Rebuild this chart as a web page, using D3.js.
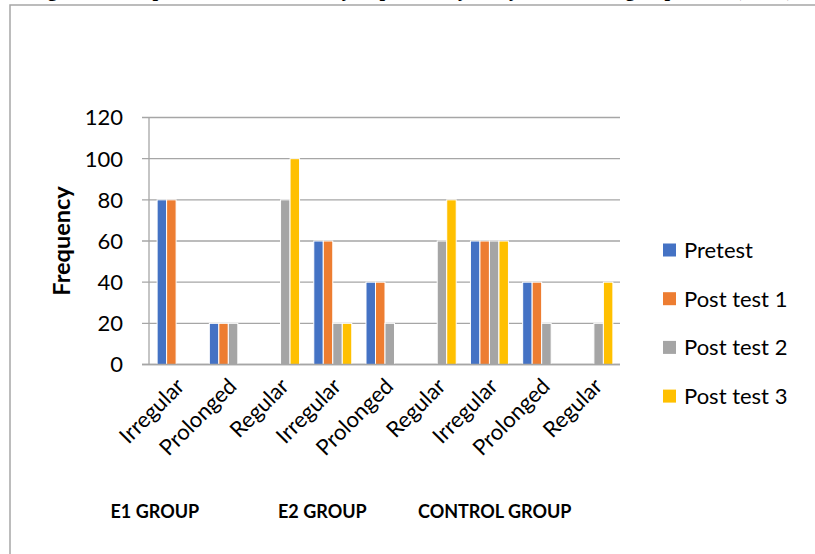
<!DOCTYPE html>
<html>
<head>
<meta charset="utf-8">
<script src="https://cdn.jsdelivr.net/npm/d3@7"></script>
<style>
  html, body { margin: 0; padding: 0; background: #fff; }
  svg { display: block; }
</style>
</head>
<body>
<svg id="chart" width="815" height="554"></svg>
<script>
// Categories along the x axis (three groups of three patterns each)
const categories = ["Irregular", "Prolonged", "Regular",
                    "Irregular", "Prolonged", "Regular",
                    "Irregular", "Prolonged", "Regular"];
const groups = ["E1 GROUP", "E2 GROUP", "CONTROL GROUP"];
const seriesNames = ["Pretest", "Post test 1", "Post test 2", "Post test 3"];
const seriesColors = ["#4472C4", "#ED7D31", "#A5A5A5", "#FFC000"];

// Frequencies per series, one value per category
const pretest   = [80, 20, 0, 60, 40, 0, 60, 40, 0];
const postTest1 = [80, 20, 0, 60, 40, 0, 60, 40, 0];
const postTest2 = [0, 20, 80, 20, 20, 60, 60, 20, 20];
const postTest3 = [0, 0, 100, 20, 0, 80, 60, 0, 40];
const seriesValues = [pretest, postTest1, postTest2, postTest3];

const yTicks = [0, 20, 40, 60, 80, 100, 120];
const titleText = "Figure 4: Comparison of menstrual cycle pattern by study and control group [Total (N=15)]";

const svg = d3.select("#chart");
const font = "Lato, 'Open Sans', sans-serif";

// Outer frame (only the top and left edges fall inside the view)
svg.append("path")
  .attr("d", "M10,554 V5 H815")
  .attr("fill", "none")
  .attr("stroke", "#a6a6a6")
  .attr("stroke-width", 1.5);

// Caption line, mostly above the visible area
svg.append("text")
  .attr("x", 30)
  .attr("y", -4)
  .attr("textLength", 770)
  .attr("lengthAdjust", "spacing")
  .attr("font-family", "'Liberation Serif', 'Times New Roman', serif")
  .attr("font-weight", "bold")
  .attr("font-size", 20)
  .attr("fill", "#000")
  .text(titleText);

const plot = { left: 150, right: 620, top: 117.5, bottom: 364.5 };

const y = d3.scaleLinear().domain([0, 120]).range([plot.bottom, plot.top]);
const x0 = d3.scaleBand().domain(d3.range(categories.length)).range([plot.left, plot.right]);
const x1 = d3.scaleBand().domain(d3.range(seriesNames.length)).range([-19, 19]);

// Horizontal gridlines with short tick stubs left of the axis
svg.append("g")
  .selectAll("line")
  .data(yTicks)
  .join("line")
  .attr("x1", plot.left - 8)
  .attr("x2", plot.right)
  .attr("y1", d => y(d))
  .attr("y2", d => y(d))
  .attr("stroke", "#a6a6a6")
  .attr("stroke-width", 1.3);

// Vertical value axis line
svg.append("line")
  .attr("x1", plot.left - 1).attr("x2", plot.left - 1)
  .attr("y1", y(120)).attr("y2", y(0))
  .attr("stroke", "#a6a6a6")
  .attr("stroke-width", 1.3);

// Y tick labels
svg.append("g")
  .selectAll("text")
  .data(yTicks)
  .join("text")
  .attr("x", 123)
  .attr("y", d => y(d))
  .attr("dy", "0.36em")
  .attr("text-anchor", "end")
  .attr("font-family", font)
  .attr("font-size", 22)
  .attr("fill", "#000")
  .text(d => d);

// Y axis title
svg.append("text")
  .attr("transform", `translate(70, ${(plot.top + plot.bottom) / 2}) rotate(-90)`)
  .attr("text-anchor", "middle")
  .attr("font-family", font)
  .attr("font-weight", "bold")
  .attr("font-size", 23.5)
  .attr("fill", "#000")
  .text("Frequency");

// Bars
const barData = [];
categories.forEach((c, i) => {
  seriesValues.forEach((vals, s) => {
    barData.push({ cat: i, s, v: vals[i] });
  });
});

svg.append("g")
  .selectAll("rect")
  .data(barData.filter(d => d.v > 0))
  .join("rect")
  .attr("x", d => x0(d.cat) + x0.bandwidth() / 2 + x1(d.s))
  .attr("width", x1.bandwidth())
  .attr("y", d => y(d.v))
  .attr("height", d => y(0) - y(d.v))
  .attr("fill", d => seriesColors[d.s])
  .attr("stroke", "#fff")
  .attr("stroke-width", 1);

// Baseline drawn on top of bars
svg.append("line")
  .attr("x1", plot.left - 8).attr("x2", plot.right)
  .attr("y1", y(0)).attr("y2", y(0))
  .attr("stroke", "#a6a6a6")
  .attr("stroke-width", 1.3);

// Rotated category labels
svg.append("g")
  .selectAll("text")
  .data(categories)
  .join("text")
  .attr("transform", (d, i) => `translate(${x0(i) + x0.bandwidth() / 2 - 2}, 376) rotate(-45)`)
  .attr("dy", "0.75em")
  .attr("text-anchor", "end")
  .attr("font-family", font)
  .attr("font-size", 22)
  .attr("fill", "#000")
  .text(d => d);

// Group captions under the category labels
const groupX = [110.5, 278, 418];
svg.append("g")
  .selectAll("text")
  .data(groups)
  .join("text")
  .attr("x", (d, i) => groupX[i])
  .attr("y", 518)
  .attr("font-family", font)
  .attr("font-weight", "bold")
  .attr("font-size", 18)
  .attr("fill", "#000")
  .text(d => d);

// Legend
const legend = svg.append("g")
  .selectAll("g")
  .data(seriesNames)
  .join("g")
  .attr("transform", (d, i) => `translate(663, ${250 + i * 48.7})`);

legend.append("rect")
  .attr("x", 0).attr("y", -6.5)
  .attr("width", 13).attr("height", 13)
  .attr("fill", (d, i) => seriesColors[i]);

legend.append("text")
  .attr("x", 21)
  .attr("dy", "0.36em")
  .attr("font-family", font)
  .attr("font-size", 22)
  .attr("fill", "#000")
  .text(d => d);
</script>
</body>
</html>
